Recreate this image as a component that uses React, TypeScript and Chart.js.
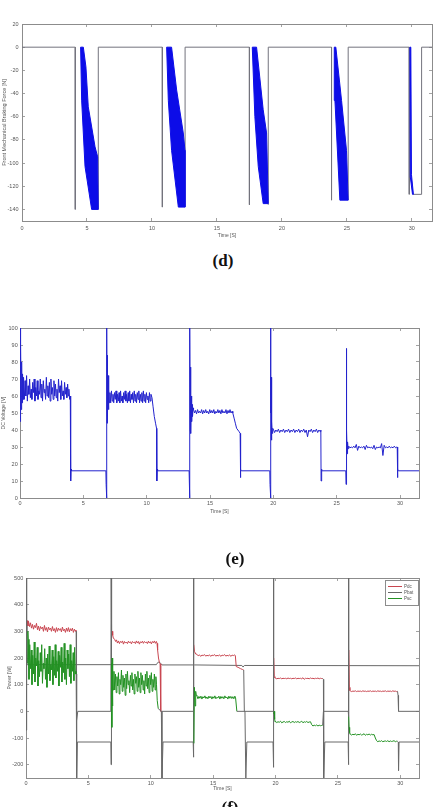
import React, { useEffect, useRef } from "react";
import { Chart, registerables } from "chart.js";

Chart.register(...registerables);

type Pt = [number, number];

// ---------------- (d) Front mechanical braking force ----------------
const D_X_TICKS = [0, 5, 10, 15, 20, 25, 30];
const D_Y_TICKS = [20, 0, -20, -40, -60, -80, -100, -120, -140];
const D_X_RANGE = [0, 31.55];
const D_Y_RANGE = [-150, 20];
const FORCE_LINE_T = [0, 4.1, 4.1, 4.1, 5.87, 5.87, 10.8, 10.8, 10.8, 12.55, 12.55, 17.5, 17.5, 17.5, 18.95, 18.95, 23.82, 23.82, 23.82, 25.1, 25.1, 29.8, 29.8, 29.8, 30.1, 30.75, 30.75, 31.55];
const FORCE_LINE_V = [0, 0, -140, null, -140, 0, 0, -138, null, -138, 0, 0, -136, null, -136, 0, 0, -132, null, -132, 0, 0, -127, null, -127, -127, 0, 0];
const FORCE_BAND_1: Pt[] = [[4.51, 0], [4.72, 0], [4.92, -17], [5.1, -51.5], [5.62, -86], [5.82, -94.6], [5.87, -140], [5.36, -140], [4.85, -103], [4.59, -45.7], [4.51, 0]];
const FORCE_BAND_2: Pt[] = [[11.13, 0], [11.51, 0], [11.9, -37], [12.41, -74], [12.54, -89], [12.54, -138], [12.03, -138], [11.51, -89], [11.26, -46], [11.13, 0]];
const FORCE_BAND_3: Pt[] = [[17.72, 0], [18.05, 0], [18.56, -54], [18.82, -74], [18.95, -135], [18.56, -135], [18.18, -103], [17.92, -60], [17.72, 0]];
const FORCE_BAND_4: Pt[] = [[24.03, 0], [24.15, 0], [24.59, -46], [24.97, -89], [25.1, -132], [24.46, -132], [24.08, -46], [24.03, 0]];
const FORCE_BAND_5: Pt[] = [[29.85, 0], [29.92, 0], [29.97, -110], [30.12, -127], [30.05, -127], [29.88, -112], [29.85, 0]];

// ---------------- (e) DC voltage ----------------
const E_X_TICKS = [0, 5, 10, 15, 20, 25, 30];
const E_Y_TICKS = [0, 10, 20, 30, 40, 50, 60, 70, 80, 90, 100];
const E_X_RANGE = [0, 31.5];
const E_Y_RANGE = [0, 100];
const VOLT_RIPPLE_SPANS = [[0.28, 3.82], [7.1, 10.34], [13.7, 16.74], [20.0, 23.7], [25.95, 29.75]];
const VOLT_LEAD: Pt[] = [[0, 45], [0.02, 100], [0.04, 47], [0.07, 90], [0.1, 52], [0.13, 80], [0.16, 56], [0.2, 73], [0.24, 58]];
const VOLT_RIPPLE_1 = [71, 58, 69, 60, 72, 57, 66, 61, 70, 59, 64, 58, 68, 62, 70, 57, 65, 60, 69, 58, 63, 61, 70, 59, 67, 57, 69, 62, 64, 58, 71, 60, 66, 59, 68, 57, 70, 61, 65, 58, 69, 60, 67, 59, 64, 57, 70, 62, 66, 58, 69, 60, 63, 58, 68, 61, 65, 59, 67, 60];
const VOLT_LINK_1: Pt[] = [[3.86, 64], [3.92, 58], [3.97, 60], [4.0, 10], [4.03, 17], [4.06, 16], [6.78, 16], [6.8, 8], [6.84, 0], [6.85, 100], [6.87, 44], [6.89, 84], [6.92, 48], [6.95, 72], [6.98, 52], [7.02, 64], [7.06, 56]];
const VOLT_RIPPLE_2 = [62, 56, 63, 57, 61, 56, 62, 58, 63, 56, 61, 57, 62, 56, 63, 57, 60, 56, 62, 58, 63, 57, 61, 56, 62, 57, 63, 56, 61, 58, 62, 56, 63, 57, 61, 56, 62, 58, 63, 56, 61, 57, 62, 56, 63, 57, 61, 56, 62, 58, 60, 56, 62, 57, 61];
const VOLT_LINK_2: Pt[] = [[10.42, 59], [10.5, 54], [10.6, 48], [10.7, 44], [10.78, 41], [10.8, 10], [10.83, 17], [10.86, 16], [13.35, 16], [13.37, 8], [13.41, 0], [13.42, 100], [13.44, 40], [13.46, 77], [13.49, 38], [13.52, 60], [13.55, 45], [13.58, 55], [13.62, 48], [13.66, 53]];
const VOLT_RIPPLE_3 = [52, 50, 51.5, 49.5, 52, 50, 51, 50, 52, 49.5, 51.5, 50, 52, 50, 51, 49.5, 52, 50, 51.5, 50, 52, 49.5, 51, 50, 52, 50, 51.5, 49.5, 52, 50, 51, 50, 52, 49.5, 51.5, 50, 52, 50, 51];
const VOLT_LINK_3: Pt[] = [[16.8, 50], [16.9, 47], [17.0, 44], [17.1, 41], [17.2, 40], [17.3, 39], [17.38, 38], [17.4, 12], [17.43, 17], [17.46, 16], [19.72, 16], [19.74, 8], [19.78, 0], [19.79, 100], [19.81, 50], [19.83, 71], [19.85, 34], [19.88, 45], [19.91, 38], [19.95, 41]];
const VOLT_RIPPLE_4 = [40.5, 38.5, 40, 39, 40.5, 38.5, 40, 39, 40.5, 38.5, 40, 39, 40.5, 38.5, 40, 39, 40.5, 38.5, 40, 39, 40.5, 38.5, 40, 39, 40.5, 38.5, 40, 36, 40, 39, 40.5, 38.5, 40, 39, 40.5, 38.5, 40, 39];
const VOLT_LINK_4: Pt[] = [[23.75, 40], [23.77, 10], [23.8, 17], [23.83, 16], [25.72, 16], [25.74, 8], [25.76, 88], [25.78, 22], [25.8, 40], [25.83, 26], [25.86, 33], [25.9, 29]];
const VOLT_RIPPLE_5 = [30.5, 29.5, 30, 29.5, 30.5, 29.5, 31.5, 28, 30.5, 29.5, 30, 29.5, 30.5, 28.5, 31, 29.5, 30, 29.5, 30, 29, 31, 28.5, 30, 29.5, 30, 29.5, 32, 25, 31, 29.5, 30, 29.5, 30.5, 29.5, 30, 29.5, 30.5, 29.5, 30];
const VOLT_TAIL: Pt[] = [[29.78, 30], [29.8, 12], [29.83, 17], [29.86, 16], [31.5, 16]];

// ---------------- (f) Power ----------------
const F_X_TICKS = [0, 5, 10, 15, 20, 25, 30];
const F_Y_TICKS = [-200, -100, 0, 100, 200, 300, 400, 500];
const F_X_RANGE = [0, 31.5];
const F_Y_RANGE = [-250, 500];
const POWER_LABELS = ["Pdc", "Pbat", "Psc"];
const POWER_ON_WINDOWS = [[0.1, 4.03], [6.85, 10.8], [13.44, 17.46], [19.85, 23.8], [25.86, 29.8]];

const POWER_R_SPANS = [[0.2, 3.96], [7.25, 10.45], [13.7, 16.72], [20.0, 23.7], [26.0, 29.7]];
const POWER_R_LEAD: Pt[] = [[0, -70], [0.03, 500], [0.06, 200], [0.1, 340], [0.15, 320]];
const POWER_R_RIPPLE_1 = [338, 318, 332, 312, 326, 308, 322, 314, 330, 306, 320, 302, 318, 310, 316, 300, 322, 304, 314, 298, 316, 306, 312, 300, 318, 302, 310, 296, 314, 300, 312, 304, 310, 298, 316, 302, 308, 296, 312, 300, 314, 298, 310, 302, 312, 296, 308, 300];
const POWER_R_LINK_1: Pt[] = [[4.0, 305], [4.02, 300], [4.05, -35], [4.15, 0], [6.8, 0], [6.83, 500], [6.86, 290], [6.9, 300], [6.95, 285], [7.0, 275], [7.1, 270], [7.18, 262]];
const POWER_R_RIPPLE_2 = [268, 256, 264, 254, 262, 258, 264, 252, 262, 256, 260, 254, 263, 257, 261, 253, 262, 258, 260, 254, 264, 256, 262, 252, 261, 257, 263, 255, 262, 258, 260, 254, 263, 256, 261, 253, 262, 257, 264, 255, 262];
const POWER_R_LINK_2: Pt[] = [[10.5, 255], [10.55, 230], [10.62, 200], [10.7, 182], [10.75, 178], [10.8, 0], [13.4, 0], [13.42, 500], [13.45, 250], [13.5, 225], [13.6, 215]];
const POWER_R_RIPPLE_3 = [214, 208, 212, 206, 211, 209, 213, 207, 210, 208, 212, 206, 211, 209, 213, 207, 210, 208, 212, 206, 211, 209, 213, 207, 210, 208, 212, 206, 211, 209, 212];
const POWER_R_LINK_3: Pt[] = [[16.78, 208], [16.85, 168], [17.0, 165], [17.2, 160], [17.35, 157], [17.45, 155], [17.5, 0], [19.8, 0], [19.83, 500], [19.86, 200], [19.9, 130], [19.95, 126]];
const POWER_R_RIPPLE_4 = [124, 122, 124, 123, 125, 122, 124, 123, 124, 122, 125, 123, 124, 122, 124, 123, 125, 122, 124, 123, 124, 122, 126, 120, 124, 123, 124, 122, 125, 123, 124, 122, 124, 123, 125, 122, 124, 123];
const POWER_R_LINK_4: Pt[] = [[23.78, 123], [23.84, 120], [23.86, -255], [23.95, -115], [25.82, -115], [25.84, -200], [25.85, 500], [25.88, 230], [25.92, 90], [25.96, 78]];
const POWER_R_RIPPLE_5 = [76, 74, 76, 75, 77, 74, 76, 75, 76, 74, 77, 75, 76, 74, 76, 75, 77, 74, 76, 75, 76, 74, 77, 75, 76, 74, 76, 75, 77, 74, 76, 75, 76, 74, 77, 75, 76, 74];
const POWER_R_TAIL: Pt[] = [[29.78, 75], [29.82, 60], [29.86, 0], [31.5, 0]];

const POWER_G_SPANS = [[0.18, 3.96], [7.05, 10.41], [13.7, 16.74], [20.0, 23.7], [26.0, 29.7]];
const POWER_G_LEAD: Pt[] = [[0, -70], [0.02, 500], [0.05, -20], [0.08, 280], [0.12, 180], [0.15, 300]];
const POWER_G_RIPPLE_1 = [270, 120, 250, 160, 230, 100, 210, 140, 260, 110, 200, 170, 240, 95, 190, 130, 220, 150, 250, 105, 180, 160, 235, 120, 200, 90, 215, 140, 245, 115, 175, 155, 230, 100, 205, 135, 250, 125, 190, 150, 225, 95, 210, 165, 240, 110, 185, 145, 255, 120, 200, 100, 230, 160, 215, 130, 250, 105, 190, 150, 220, 115, 240, 140];
const POWER_G_LINK_1: Pt[] = [[4.0, 150], [4.03, 140], [4.06, -255], [4.12, -115], [6.8, -115], [6.82, -200], [6.84, 500], [6.86, 180], [6.88, -60], [6.9, 200], [6.93, 20], [6.96, 160], [7.0, 80]];
const POWER_G_RIPPLE_2 = [150, 80, 140, 70, 130, 95, 145, 65, 120, 100, 155, 75, 135, 90, 125, 60, 140, 85, 150, 100, 115, 70, 135, 95, 145, 80, 120, 65, 140, 105, 130, 75, 150, 90, 125, 70, 145, 100, 135, 80, 115, 65, 140, 95, 150, 85, 125, 70, 135, 100, 145, 75, 120, 90, 140, 80, 130];
const POWER_G_LINK_2: Pt[] = [[10.46, 100], [10.52, 40], [10.6, 10], [10.85, 0], [10.9, -255], [10.98, -115], [13.4, -115], [13.41, -172], [13.43, 500], [13.46, -120], [13.5, 90], [13.55, 20], [13.6, 75], [13.65, 60]];
const POWER_G_RIPPLE_3 = [58, 47, 56, 49, 57, 46, 55, 50, 58, 48, 54, 47, 57, 50, 56, 46, 55, 49, 58, 47, 53, 50, 57, 46, 56, 49, 55, 47, 58, 50, 54, 46, 57, 49, 56, 48, 55, 47, 57];
const POWER_G_LINK_3: Pt[] = [[16.8, 50], [16.9, 0], [17.55, 0], [17.62, -255], [17.7, -115], [19.8, -115], [19.82, -210], [19.84, 500], [19.87, -10], [19.9, 0], [19.93, -30], [19.97, -40]];
const POWER_G_RIPPLE_4 = [-38, -42, -39, -41, -37, -43, -40, -38, -42, -39, -41, -37, -43, -40, -38, -42, -39, -41, -38, -42, -40, -37, -43, -39, -41, -38, -42, -40, -39, -50, -55, -52, -54, -51, -55, -52, -54, -53];
const POWER_G_LINK_4: Pt[] = [[23.78, -52], [23.84, 0], [25.83, 0], [25.85, 500], [25.87, -20], [25.9, -60], [25.94, -80], [25.97, -86]];
const POWER_G_RIPPLE_5 = [-85, -89, -86, -88, -84, -90, -86, -88, -85, -89, -87, -84, -90, -86, -88, -85, -89, -86, -88, -87, -100, -110, -114, -111, -113, -110, -114, -112, -111, -113, -110, -114, -111, -113, -112, -110, -114, -112];
const POWER_G_TAIL: Pt[] = [[29.76, -112], [29.84, -115], [29.86, -222], [29.9, -115], [31.5, -115]];

const POWER_K: Pt[] = [[0, 175], [10.45, 175], [10.5, 180], [10.65, 185], [10.8, 180], [10.9, 174], [13.5, 174], [17.3, 172], [17.4, 166], [17.5, 172], [31.5, 171]];

// ---------------- styling ----------------
const AXIS_COLOR = "#8c8c8c";
const LABEL_COLOR = "#555555";
const FONT_FAMILY = "'Liberation Sans', Arial, sans-serif";
const BLUE_BAND = "rgb(12,12,232)";
const FORCE_GRAY = "rgb(115,115,125)";
const VOLT_BLUE = "rgb(35,35,205)";
const RED = "rgb(200,70,80)";
const GREEN = "rgb(35,145,35)";
const GRAY = "rgb(105,105,105)";

function ripple(span: number[], values: number[]): Pt[] {
  const n = values.length;
  return values.map((v, i) => [span[0] + (i * (span[1] - span[0])) / (n - 1), v] as Pt);
}
const xy = (pts: Pt[]) => pts.map(([x, y]) => ({ x, y }));

const VOLT_SERIES: Pt[] = [
  ...VOLT_LEAD, ...ripple(VOLT_RIPPLE_SPANS[0], VOLT_RIPPLE_1), ...VOLT_LINK_1,
  ...ripple(VOLT_RIPPLE_SPANS[1], VOLT_RIPPLE_2), ...VOLT_LINK_2,
  ...ripple(VOLT_RIPPLE_SPANS[2], VOLT_RIPPLE_3), ...VOLT_LINK_3,
  ...ripple(VOLT_RIPPLE_SPANS[3], VOLT_RIPPLE_4), ...VOLT_LINK_4,
  ...ripple(VOLT_RIPPLE_SPANS[4], VOLT_RIPPLE_5), ...VOLT_TAIL,
];
const POWER_R_SERIES: Pt[] = [
  ...POWER_R_LEAD, ...ripple(POWER_R_SPANS[0], POWER_R_RIPPLE_1), ...POWER_R_LINK_1,
  ...ripple(POWER_R_SPANS[1], POWER_R_RIPPLE_2), ...POWER_R_LINK_2,
  ...ripple(POWER_R_SPANS[2], POWER_R_RIPPLE_3), ...POWER_R_LINK_3,
  ...ripple(POWER_R_SPANS[3], POWER_R_RIPPLE_4), ...POWER_R_LINK_4,
  ...ripple(POWER_R_SPANS[4], POWER_R_RIPPLE_5), ...POWER_R_TAIL,
];
const POWER_G_SERIES: Pt[] = [
  ...POWER_G_LEAD, ...ripple(POWER_G_SPANS[0], POWER_G_RIPPLE_1), ...POWER_G_LINK_1,
  ...ripple(POWER_G_SPANS[1], POWER_G_RIPPLE_2), ...POWER_G_LINK_2,
  ...ripple(POWER_G_SPANS[2], POWER_G_RIPPLE_3), ...POWER_G_LINK_3,
  ...ripple(POWER_G_SPANS[3], POWER_G_RIPPLE_4), ...POWER_G_LINK_4,
  ...ripple(POWER_G_SPANS[4], POWER_G_RIPPLE_5), ...POWER_G_TAIL,
];

const inOn = (x: number) => POWER_ON_WINDOWS.some(([a, b]) => x >= a && x <= b);

interface AxisSpec {
  xRange: number[]; yRange: number[]; xTicks: number[]; yTicks: number[];
  yWidth: number; xHeight: number; yTitle: string; yTitleSize: number; yTitlePad: number;
  xTickPad: number; yTickPad: number; xTitlePad: number; padding: any;
}

function buildOptions(a: AxisSpec): any {
  const tickFont = { family: FONT_FAMILY, size: 5.5 };
  const grid = { display: true, drawOnChartArea: false, drawTicks: true, tickLength: -3, color: AXIS_COLOR, lineWidth: 0.8 };
  const border = { display: true, color: AXIS_COLOR, width: 1 };
  const setX = (s: any) => { s.ticks = a.xTicks.map((value) => ({ value })); };
  const setY = (s: any) => { s.ticks = a.yTicks.map((value) => ({ value })); };
  return {
    responsive: false,
    animation: false,
    devicePixelRatio: 1,
    events: [],
    layout: { padding: a.padding },
    plugins: { legend: { display: false }, tooltip: { enabled: false } },
    elements: { point: { radius: 0 }, line: { tension: 0 } },
    scales: {
      x: {
        type: "linear", position: "bottom", min: a.xRange[0], max: a.xRange[1],
        grid, border, afterBuildTicks: setX, afterFit: (s: any) => { s.height = a.xHeight; },
        ticks: { font: tickFont, color: LABEL_COLOR, padding: a.xTickPad, maxRotation: 0, autoSkip: false },
        title: { display: true, text: "Time [S]", font: { family: FONT_FAMILY, size: 5 }, color: LABEL_COLOR, padding: { top: 0, bottom: a.xTitlePad } },
      },
      x2: {
        type: "linear", position: "top", min: a.xRange[0], max: a.xRange[1],
        grid, border, afterBuildTicks: setX, afterFit: (s: any) => { s.height = 0; },
        ticks: { display: false },
      },
      y: {
        type: "linear", position: "left", min: a.yRange[0], max: a.yRange[1],
        grid, border, afterBuildTicks: setY, afterFit: (s: any) => { s.width = a.yWidth; },
        ticks: { font: tickFont, color: LABEL_COLOR, padding: a.yTickPad, autoSkip: false },
        title: { display: true, text: a.yTitle, font: { family: FONT_FAMILY, size: a.yTitleSize }, color: LABEL_COLOR, padding: { top: a.yTitlePad, bottom: 0 } },
      },
      y2: {
        type: "linear", position: "right", min: a.yRange[0], max: a.yRange[1],
        grid, border, afterBuildTicks: setY, afterFit: (s: any) => { s.width = 0; },
        ticks: { display: false },
      },
    },
  };
}

const legendBoxPlugin = {
  id: "legendBox",
  afterDatasetsDraw(chart: any, _args: any, opts: any) {
    if (!opts || !opts.labels) return;
    const { ctx, chartArea } = chart;
    const rowH = 6;
    const boxW = 33;
    const boxH = opts.labels.length * rowH + 7;
    const x0 = Math.round(chartArea.right - boxW - 1);
    const y0 = Math.round(chartArea.top + 2);
    ctx.save();
    ctx.fillStyle = "#ffffff";
    ctx.fillRect(x0, y0, boxW, boxH);
    ctx.strokeStyle = AXIS_COLOR;
    ctx.lineWidth = 1;
    ctx.strokeRect(x0 + 0.5, y0 + 0.5, boxW, boxH);
    ctx.font = `4.5px ${FONT_FAMILY}`;
    ctx.textBaseline = "middle";
    opts.labels.forEach((label: string, i: number) => {
      const y = y0 + 6.5 + i * rowH;
      ctx.strokeStyle = opts.colors[i];
      ctx.beginPath();
      ctx.moveTo(x0 + 3, y);
      ctx.lineTo(x0 + 17, y);
      ctx.stroke();
      ctx.fillStyle = LABEL_COLOR;
      ctx.fillText(label, x0 + 19, y);
    });
    ctx.restore();
  },
};

function forceConfig(): any {
  const bands = [FORCE_BAND_1, FORCE_BAND_2, FORCE_BAND_3, FORCE_BAND_4, FORCE_BAND_5];
  return {
    type: "line",
    data: {
      datasets: [
        ...bands.map((b) => ({
          data: xy(b), fill: "shape", backgroundColor: BLUE_BAND, borderColor: BLUE_BAND, borderWidth: 1, pointRadius: 0,
        })),
        {
          data: FORCE_LINE_T.map((x, i) => ({ x, y: FORCE_LINE_V[i] })),
          borderColor: FORCE_GRAY, borderWidth: 1, pointRadius: 0, fill: false, spanGaps: false,
        },
      ],
    },
    options: buildOptions({
      xRange: D_X_RANGE, yRange: D_Y_RANGE, xTicks: D_X_TICKS, yTicks: D_Y_TICKS,
      yWidth: 22, xHeight: 24, yTitle: "Front Mechanical Braking Force [N]", yTitleSize: 5.5, yTitlePad: 1.5,
      xTickPad: 7, yTickPad: 6.5, xTitlePad: 6, padding: { top: 24, right: 1, left: 0, bottom: 0 },
    }),
  };
}

function voltConfig(): any {
  return {
    type: "line",
    data: {
      datasets: [
        { data: xy(VOLT_SERIES), borderColor: VOLT_BLUE, borderWidth: 1, pointRadius: 0, fill: false },
      ],
    },
    options: buildOptions({
      xRange: E_X_RANGE, yRange: E_Y_RANGE, xTicks: E_X_TICKS, yTicks: E_Y_TICKS,
      yWidth: 20, xHeight: 20, yTitle: "DC Voltage [V]", yTitleSize: 5, yTitlePad: 1,
      xTickPad: 5, yTickPad: 5.3, xTitlePad: 3.3, padding: { top: 28, right: 14, left: 0, bottom: 0 },
    }),
  };
}

function powerConfig(): any {
  const seg = { borderColor: (ctx: any) => (inOn(ctx.p0.parsed.x) && inOn(ctx.p1.parsed.x) ? undefined : GRAY) };
  const opts = buildOptions({
    xRange: F_X_RANGE, yRange: F_Y_RANGE, xTicks: F_X_TICKS, yTicks: F_Y_TICKS,
    yWidth: 26, xHeight: 17, yTitle: "Power [W]", yTitleSize: 5, yTitlePad: 7,
    xTickPad: 5, yTickPad: 5.7, xTitlePad: 3.7, padding: { top: 28, right: 14, left: 0, bottom: 0 },
  });
  opts.plugins.legendBox = { labels: POWER_LABELS, colors: [RED, GRAY, GREEN] };
  return {
    type: "line",
    data: {
      datasets: [
        { label: POWER_LABELS[2], data: xy(POWER_G_SERIES), borderColor: GREEN, borderWidth: 1, pointRadius: 0, fill: false, segment: seg, order: 0 },
        { label: POWER_LABELS[0], data: xy(POWER_R_SERIES), borderColor: RED, borderWidth: 1, pointRadius: 0, fill: false, segment: seg, order: 1 },
        { label: POWER_LABELS[1], data: xy(POWER_K), borderColor: GRAY, borderWidth: 1, pointRadius: 0, fill: false, order: 2 },
      ],
    },
    options: opts,
    plugins: [legendBoxPlugin],
  };
}

function ChartCanvas({ make, left, top, width, height }: { make: () => any; left: number; top: number; width: number; height: number }) {
  const ref = useRef<HTMLCanvasElement>(null);
  useEffect(() => {
    const chart = new Chart(ref.current as HTMLCanvasElement, make());
    return () => chart.destroy();
  }, []);
  return (
    <canvas
      ref={ref}
      width={width}
      height={height}
      style={{ position: "absolute", left, top, width, height, display: "block" }}
    />
  );
}

const captionStyle = (x: number, y: number): React.CSSProperties => ({
  position: "absolute",
  left: x,
  top: y,
  transform: "translate(-50%, -50%)",
  fontFamily: "'Liberation Serif', 'Times New Roman', serif",
  fontWeight: "bold",
  fontSize: 17,
  lineHeight: 1,
  color: "#111",
  whiteSpace: "nowrap",
});

export default function App() {
  return (
    <div style={{ position: "absolute", left: 0, top: 0, width: 433, height: 807, overflow: "hidden", background: "#fff" }}>
      <ChartCanvas make={forceConfig} left={0} top={0} width={433} height={245} />
      <ChartCanvas make={voltConfig} left={0} top={300} width={433} height={218} />
      <ChartCanvas make={powerConfig} left={0} top={550} width={433} height={245} />
      <div style={captionStyle(223, 260)}>(d)</div>
      <div style={captionStyle(235, 558)}>(e)</div>
      <div style={captionStyle(230, 807)}>(f)</div>
    </div>
  );
}
